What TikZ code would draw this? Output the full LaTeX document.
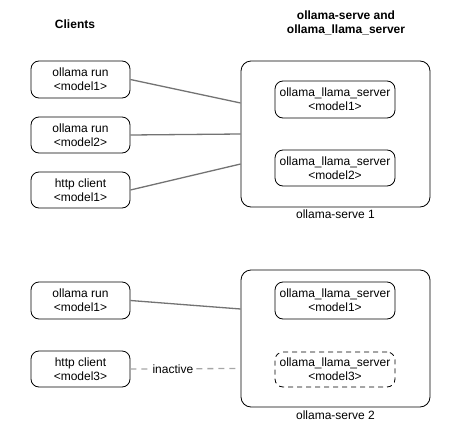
\documentclass[tikz,border=0pt]{standalone}
\usepackage{fontspec}
\setmainfont{Liberation Sans}
\begin{document}
\begin{tikzpicture}[x=1pt,y=-1pt,
  every node/.style={font=\fontsize{12}{14}\selectfont, inner sep=0pt, align=center},
  client/.style={draw=black, line width=0.8pt, rounded corners=8pt, minimum width=99pt, minimum height=36pt},
  serve/.style={draw=black, line width=0.8pt, rounded corners=10pt, minimum width=189pt},
  llama/.style={draw=black, line width=0.8pt, rounded corners=8pt, minimum width=120pt, minimum height=36pt},
  conn/.style={draw=gray!90!black, line width=1.3pt},
  title/.style={font=\bfseries\fontsize{12}{14}\selectfont}
]
\useasboundingbox (0,0) rectangle (450,442);
% titles
\node[title] (tc) at (75,24) {Clients};
\node[title] (ts) at (346,23) {ollama-serve and\\ollama\_llama\_server};
% servers
\node[serve, minimum height=146pt] (s1) at (335.5,134) {};
\node[serve, minimum height=137pt] (s2) at (335.5,338.5) {};
\node (l1) at (335.5,214) {ollama-serve 1};
\node (l2) at (335.5,415) {ollama-serve 2};
% inner
\node[llama, minimum height=37pt] (i1) at (335,99.5) {ollama\_llama\_server\\<model1>};
\node[llama] (i2) at (335,168) {ollama\_llama\_server\\<model2>};
\node[llama, minimum height=37pt] (i3) at (335,300.5) {ollama\_llama\_server\\<model1>};
\node[llama, dashed, dash pattern=on 5pt off 4pt, minimum height=35pt] (i4) at (335,369.5) {ollama\_llama\_server\\<model3>};
% clients
\node[client, minimum height=37pt] (c1) at (80.5,79.5) {ollama run\\<model1>};
\node[client] (c2) at (80.5,135) {ollama run\\<model2>};
\node[client] (c3) at (80.5,190) {http client\\<model1>};
\node[client, minimum height=37pt] (c4) at (80.5,300.5) {ollama run\\<model1>};
\node[client] (c5) at (80.5,369) {http client\\<model3>};
% connectors
\draw[conn] (c1.east) -- ([yshift=31pt]s1.west);
\draw[conn] (c2.east) -- ([yshift=0pt]s1.west);
\draw[conn] (c3.east) -- ([yshift=-30pt]s1.west);
\draw[conn] (c4.east) -- ([yshift=29.5pt]s2.west);
\coordinate (de) at ([xshift=-4pt,yshift=-30pt]s2.west);
\draw[draw=gray!70, line width=1.3pt, dash pattern=on 6pt off 5pt] (c5.east) -- node[pos=0.4, fill=white, inner xsep=1pt, inner ysep=1pt, text=black] (ina) {inactive} (de);
\end{tikzpicture}
\end{document}
